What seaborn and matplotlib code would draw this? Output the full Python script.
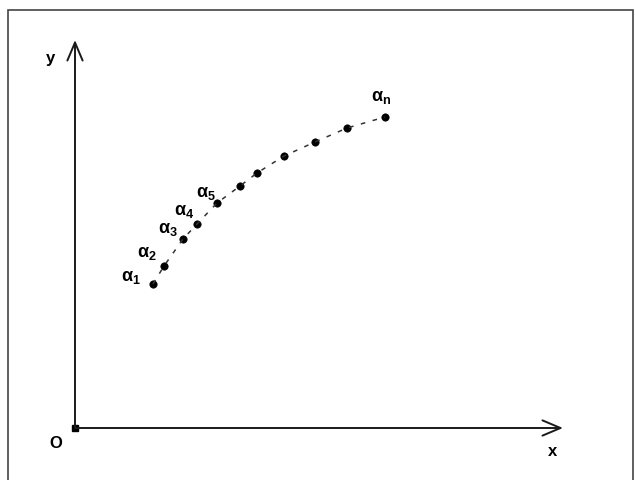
"""
Sequence of points alpha_1 .. alpha_n along a curve in the xOy plane.
"""
import pandas as pd
import seaborn as sns
import matplotlib.pyplot as plt
from matplotlib.patches import Rectangle

# point coordinates (origin O = 0,0)
pt_x = [7.8, 8.9, 10.8, 12.2, 14.2, 16.5, 18.2, 20.9, 24.0, 27.2, 31.0]
pt_y = [14.4, 16.2, 18.9, 20.4, 22.5, 24.2, 25.5, 27.2, 28.6, 30.0, 31.1]
pt_labels = [r'$\alpha_1$', r'$\alpha_2$', r'$\alpha_3$', r'$\alpha_4$', r'$\alpha_5$',
             '', '', '', '', '', r'$\alpha_n$']

# axes extents
x_end = 48.8
y_end = 38.8

sns.set_style('white')
plt.rcParams['font.family'] = ['Liberation Sans', 'DejaVu Sans']
plt.rcParams['text.color'] = 'black'
plt.rcParams['mathtext.fontset'] = 'custom'
plt.rcParams['mathtext.rm'] = 'Liberation Sans:bold'
plt.rcParams['mathtext.it'] = 'Liberation Sans:bold'

df = pd.DataFrame({'x': pt_x, 'y': pt_y, 'label': pt_labels})

fig = plt.figure(figsize=(6.35, 4.8), dpi=100)
ax = fig.add_axes([0, 0, 1, 1])
ax.set_xlim(-7.5, 56.0)
ax.set_ylim(-5.2, 42.8)
ax.axis('off')

# frame around the picture
fig.add_artist(Rectangle((8 / 635, -0.01), 625 / 635, 1 - 10 / 480 + 0.01,
                         transform=fig.transFigure, fill=False,
                         edgecolor='#444444', lw=1.2))

# axes with open arrow heads
arrow = dict(arrowstyle='->,head_length=1.3,head_width=0.55', color='#1a1a1a',
             lw=1.4, shrinkA=0, shrinkB=0)
ax.annotate('', xy=(x_end, 0), xytext=(0, 0), arrowprops=arrow)
ax.annotate('', xy=(0, y_end), xytext=(0, 0), arrowprops=arrow)
ax.plot([0], [0], marker='s', color='black', markersize=4)

ax.annotate('y', xy=(0, y_end), xytext=(-25, -18), textcoords='offset pixels',
            fontsize=12, fontweight='bold', ha='center', va='center')
ax.annotate('O', xy=(0, 0), xytext=(-19, -15), textcoords='offset pixels',
            fontsize=12, fontweight='bold', ha='center', va='center')
ax.annotate('x', xy=(x_end, 0), xytext=(-10, -24), textcoords='offset pixels',
            fontsize=12, fontweight='bold', ha='center', va='center')

# dashed curve and points
sns.lineplot(data=df, x='x', y='y', ax=ax, color='#333333', lw=1.1,
             linestyle=(0, (3, 5)), sort=False)
sns.scatterplot(data=df, x='x', y='y', ax=ax, color='black', s=28,
                edgecolor='black', linewidth=0.5)

label_offsets = [(-22, 6), (-17, 13), (-15, 9), (-13, 12), (-11, 10),
                 (0, 0), (0, 0), (0, 0), (0, 0), (0, 0), (-4, 19)]
for (_, row), off in zip(df.iterrows(), label_offsets):
    if row['label']:
        ax.annotate(row['label'], xy=(row['x'], row['y']), xytext=off,
                    textcoords='offset pixels', fontsize=13,
                    ha='center', va='center', color='black')

fig.savefig('out.png', dpi=100)
